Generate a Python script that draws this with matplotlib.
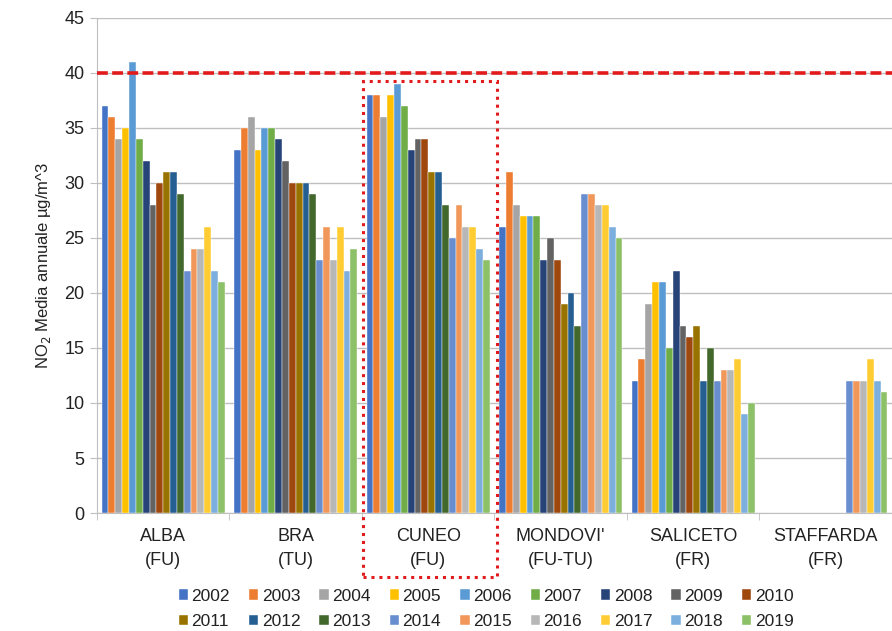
import matplotlib.pyplot as plt
import numpy as np
from matplotlib.patches import Rectangle

plt.rcParams['font.family'] = ['Liberation Sans', 'DejaVu Sans']

# Stazioni e anni
stazioni = ["ALBA\n(FU)", "BRA\n(TU)", "CUNEO\n(FU)", "MONDOVI'\n(FU-TU)", "SALICETO\n(FR)", "STAFFARDA\n(FR)"]
anni = [str(a) for a in range(2002, 2020)]

# NO2 media annuale per stazione, un valore per anno (None = dato mancante)
alba = [37, 36, 34, 35, 41, 34, 32, 28, 30, 31, 31, 29, 22, 24, 24, 26, 22, 21]
bra = [33, 35, 36, 33, 35, 35, 34, 32, 30, 30, 30, 29, 23, 26, 23, 26, 22, 24]
cuneo = [38, 38, 36, 38, 39, 37, 33, 34, 34, 31, 31, 28, 25, 28, 26, 26, 24, 23]
mondovi = [26, 31, 28, 27, 27, 27, 23, 25, 23, 19, 20, 17, 29, 29, 28, 28, 26, 25]
saliceto = [12, 14, 19, 21, 21, 15, 22, 17, 16, 17, 12, 15, 12, 13, 13, 14, 9, 10]
staffarda = [None] * 12 + [12, 12, 12, 14, 12, 11]
limite = 40

colori = ['#4472C4', '#ED7D31', '#A5A5A5', '#FFC000', '#5B9BD5', '#70AD47',
          '#264478', '#636363', '#9E480E', '#997300', '#255E91', '#43682B',
          '#698ED0', '#F1975A', '#B7B7B7', '#FFCD33', '#7CAFDD', '#8CC168']

dati = np.array([alba, bra, cuneo, mondovi, saliceto, staffarda], dtype=float)

fig = plt.figure(figsize=(8.92, 6.31), dpi=100)
ax = fig.add_axes([0.1087, 0.187, 0.8913, 0.7845])

n = len(anni)
x = np.arange(len(stazioni))
larghezza = 0.93 / n
barre = []
for i, anno in enumerate(anni):
    pos = x - 0.465 + larghezza * (i + 0.5)
    b = ax.bar(pos, np.nan_to_num(dati[:, i]), width=larghezza, color=colori[i],
               edgecolor='white', linewidth=0.3, label=anno, zorder=3)
    barre.append(b)

# Valore limite annuale
ax.axhline(limite, color='#E31A1C', linestyle=(0, (3, 1.2)), linewidth=2.6, zorder=4)

ax.set_xlim(-0.5, len(stazioni) - 0.5)
ax.set_ylim(0, 45)
ax.set_yticks(np.arange(0, 46, 5))
ax.yaxis.grid(True, color='#BFBFBF', linewidth=1, zorder=0)
ax.set_xticks(x)
ax.set_xticklabels(stazioni, fontsize=13, linespacing=1.55, color='#222222')
ax.set_xticks(np.arange(-0.5, len(stazioni)), minor=True)
ax.tick_params(axis='x', which='major', length=0, pad=11)
ax.tick_params(axis='x', which='minor', length=5, color='#BFBFBF')
ax.tick_params(axis='y', length=5, color='#BFBFBF', labelsize=13, pad=4,
               labelcolor='#222222')
for s in ['top', 'right']:
    ax.spines[s].set_visible(False)
for s in ['left', 'bottom']:
    ax.spines[s].set_color('#BFBFBF')
ax.set_ylabel('NO$_2$ Media annuale µg/m^3', fontsize=12, labelpad=8, color='#222222')

# Riquadro su CUNEO
fig.patches.append(Rectangle((363 / 892, 1 - 577 / 631), 134 / 892, 496 / 631,
                             transform=fig.transFigure, fill=False,
                             edgecolor='#E31A1C', linestyle=(0, (1, 1.6)),
                             linewidth=2.2))

# Legenda su due righe, ordinata per riga
ordine = []
for k in range(9):
    ordine += [k, k + 9]
ax.legend([barre[k] for k in ordine], [anni[k] for k in ordine],
          loc='upper center', bbox_to_anchor=(486 / 892, 1 - 579 / 631), ncol=9,
          frameon=False, fontsize=12.5, handlelength=0.55, handleheight=0.55,
          handletextpad=0.2, columnspacing=1.08, labelspacing=0.62,
          borderpad=0.05, bbox_transform=fig.transFigure, labelcolor='#222222')

fig.savefig('out.png', dpi=100)
